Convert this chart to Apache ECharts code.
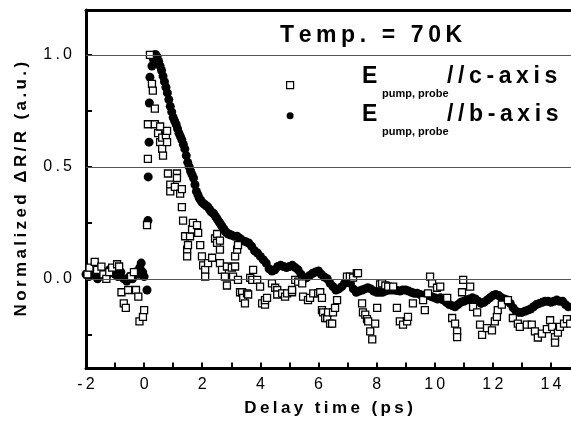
<!DOCTYPE html>
<html><head><meta charset="utf-8">
<script src="https://cdn.jsdelivr.net/npm/echarts@6/dist/echarts.min.js"></script>
<style>html,body{margin:0;padding:0;background:#fff}#c{width:571px;height:430px}</style>
</head><body><div id="c"></div>
<script>
// ---- data ----
const xMin = -2, xMax = 14.69;
const yMin = -0.4, yMax = 1.2;
const xLabelValues = [-2, 0, 2, 4, 6, 8, 10, 12, 14];
const xTickValues = [-2, -1, 0, 1, 2, 3, 4, 5, 6, 7, 8, 9, 10, 11, 12, 13, 14];
const yLabelValues = [0, 0.5, 1.0];
const yTickValues = [-0.25, 0, 0.25, 0.5, 0.75, 1.0];
const gridLineValues = [0, 0.5, 1.0];

const seriesNames = ['E pump, probe //c-axis', 'E pump, probe //b-axis'];

// filled circles: E // b-axis
const bAxisPts = [
[-2.0,0.02],[-1.9,0.01],[-1.8,0.03],[-1.7,0.02],[-1.6,0.0],[-1.5,0.02],[-1.4,0.03],[-1.3,0.01],[-1.2,0.04],[-1.1,0.03],
[-1.0,0.02],[-0.9,0.01],[-0.8,0.03],[-0.7,0.0],[-0.6,-0.01],[-0.5,0.01],[-0.4,0.0],[-0.3,0.03],[-0.2,0.02],[-0.15,0.05],
[-0.1,0.07],[-0.05,0.03],[0.0,0.01],[0.1,-0.05],
[0.13,0.26],[0.14,0.455],[0.17,0.61],[0.18,0.785],[0.2,0.9],[0.27,0.95],[0.32,0.98],[0.37,1.0],
[0.4,1.0],[0.45,0.99],[0.5,0.97],[0.55,0.95],[0.6,0.93],[0.65,0.905],[0.7,0.88],[0.75,0.855],[0.8,0.83],[0.85,0.80],
[0.9,0.77],[0.95,0.745],[1.0,0.72],[1.05,0.705],[1.1,0.69],[1.15,0.67],[1.2,0.65],[1.25,0.635],[1.3,0.62],[1.35,0.60],
[1.4,0.58],[1.45,0.55],[1.5,0.52],[1.55,0.50],[1.6,0.48],[1.65,0.465],[1.7,0.45],[1.75,0.42],[1.8,0.39],[1.85,0.375],
[1.9,0.36],[1.95,0.35],[2.0,0.34],[2.05,0.335],[2.1,0.33],[2.15,0.325],[2.2,0.32],[2.25,0.31],[2.3,0.30],[2.35,0.295],
[2.4,0.29],[2.45,0.28],[2.5,0.27],[2.55,0.26],[2.6,0.25],[2.65,0.24],[2.7,0.23],[2.75,0.22],[2.8,0.21],[2.85,0.205],
[2.9,0.20],[2.95,0.197],[3.0,0.195],[3.1,0.19],[3.2,0.19],[3.3,0.18],
[3.4,0.17],[3.5,0.165],[3.6,0.16],[3.7,0.145],[3.8,0.125],[3.9,0.115],[4.0,0.10],[4.1,0.085],[4.2,0.07],[4.3,0.045],
[4.4,0.035],[4.5,0.04],[4.6,0.055],[4.7,0.06],[4.8,0.055],[4.9,0.05],[5.0,0.055],[5.1,0.06],[5.2,0.05],[5.3,0.04],
[5.4,0.02],[5.5,0.0],[5.6,0.005],[5.7,0.015],[5.8,0.025],[5.9,0.03],[6.0,0.035],[6.1,0.02],[6.2,0.008],[6.3,0.0],
[6.4,-0.02],[6.5,-0.035],[6.6,-0.05],[6.7,-0.045],[6.8,-0.035],[6.9,-0.02],[7.0,-0.005],[7.1,-0.02],[7.2,-0.045],[7.3,-0.06],
[7.4,-0.055],[7.5,-0.05],[7.6,-0.045],[7.7,-0.04],[7.8,-0.045],[7.9,-0.055],[8.0,-0.06],[8.1,-0.06],[8.2,-0.06],[8.3,-0.055],
[8.4,-0.05],[8.5,-0.05],[8.6,-0.05],[8.7,-0.052],[8.8,-0.055],[8.9,-0.05],[9.0,-0.05],[9.1,-0.055],[9.2,-0.06],[9.3,-0.065],
[9.4,-0.065],[9.5,-0.07],[9.6,-0.075],[9.7,-0.07],[9.8,-0.075],[9.9,-0.08],[10.0,-0.085],[10.1,-0.09],[10.2,-0.085],[10.3,-0.095],
[10.4,-0.105],[10.5,-0.115],[10.6,-0.12],[10.7,-0.125],[10.8,-0.115],[10.9,-0.105],[11.0,-0.1],[11.1,-0.095],[11.2,-0.09],[11.3,-0.085],
[11.4,-0.09],[11.5,-0.1],[11.6,-0.11],[11.7,-0.105],[11.8,-0.095],[11.9,-0.085],[12.0,-0.075],[12.1,-0.07],[12.2,-0.075],[12.3,-0.085],
[12.4,-0.09],[12.5,-0.095],[12.6,-0.11],[12.7,-0.13],[12.8,-0.145],[12.9,-0.15],[13.0,-0.15],[13.1,-0.145],[13.2,-0.14],[13.3,-0.135],
[13.4,-0.125],[13.5,-0.115],[13.6,-0.11],[13.7,-0.105],[13.8,-0.1],[13.9,-0.1],[14.0,-0.105],[14.1,-0.1],[14.2,-0.095],[14.3,-0.1],
[14.4,-0.1],[14.5,-0.115],[14.6,-0.125],[14.7,-0.125]
];

// open squares: E // c-axis
const cAxisPts = [
[-1.95,0.02],[-1.88,0.05],[-1.7,0.076],[-1.62,0.04],[-1.47,0.054],[-1.4,0.02],[-1.3,0.0],[-1.2,0.03],[-1.1,0.05],[-0.93,0.065],
[-0.86,0.055],[-0.78,-0.06],[-0.7,-0.11],[-0.63,-0.13],[-0.55,-0.05],[-0.45,0.01],[-0.35,0.03],[-0.28,-0.05],[-0.2,-0.08],[-0.16,-0.19],
[-0.04,-0.17],[0.0,-0.14],
[0.1,0.24],[0.13,0.535],[0.13,0.69],[0.2,1.0],[0.27,0.87],[0.3,0.84],[0.37,0.76],[0.37,0.69],[0.48,0.65],[0.55,0.68],
[0.55,0.61],[0.62,0.63],[0.62,0.58],[0.65,0.55],[0.75,0.64],[0.79,0.66],[0.79,0.61],[0.82,0.47],[0.9,0.42],[0.9,0.39],
[1.06,0.41],[1.13,0.47],[1.13,0.45],[1.24,0.38],[1.3,0.40],[1.3,0.32],[1.34,0.26],[1.41,0.19],[1.48,0.13],[1.48,0.10],
[1.51,0.15],[1.58,0.19],[1.65,0.22],[1.68,0.25],[1.82,0.24],[1.86,0.205],[1.93,0.15],[1.99,0.10],[2.03,0.06],[2.1,0.04],
[2.1,0.01],[2.2,0.07],[2.34,0.094],[2.44,0.18],[2.51,0.2],[2.51,0.16],[2.61,0.17],[2.61,0.13],[2.61,0.07],[2.68,0.04],
[2.78,0.01],[2.85,0.055],[2.85,-0.03],[3.02,0.05],[3.06,0.01],[3.13,0.1],[3.13,0.055],[3.2,0.13],[3.23,0.15],[3.23,-0.005],
[3.3,-0.06],[3.37,-0.06],[3.41,-0.085],[3.47,-0.11],[3.54,-0.065],[3.58,-0.07],[3.65,0.004],[3.72,-0.005],[3.75,0.04],[3.89,-0.005],
[3.99,-0.035],[4.06,-0.11],[4.16,-0.115],[4.16,-0.095],[4.23,-0.085],[4.4,-0.02],[4.51,-0.04],[4.58,-0.05],[4.58,-0.07],[4.75,-0.065],
[4.85,-0.08],[4.92,-0.065],[5.09,-0.06],[5.09,-0.05],[5.2,-0.005],[5.3,-0.013],[5.44,-0.02],[5.47,-0.08],[5.64,-0.095],[5.71,-0.085],
[5.82,-0.065],[5.99,-0.065],[6.06,-0.06],[6.12,-0.085],[6.12,-0.14],[6.16,-0.15],[6.23,-0.175],[6.3,-0.175],[6.33,-0.15],[6.4,-0.2],
[6.47,-0.2],[6.5,-0.15],[6.57,-0.13],[6.64,-0.095],[6.98,0.01],[7.08,0.01],[7.19,0.005],[7.32,0.025],[7.36,0.025],[7.5,-0.11],
[7.53,-0.15],[7.61,-0.16],[7.67,-0.18],[7.71,-0.19],[7.78,-0.235],[7.85,-0.27],[7.95,-0.2],[8.02,-0.13],[8.12,-0.025],[8.19,-0.02],
[8.3,-0.03],[8.4,-0.035],[8.57,-0.035],[8.7,-0.13],[8.8,-0.19],[8.91,-0.205],[9.05,-0.19],[9.08,-0.17],[9.25,-0.11],[9.6,-0.095],
[9.66,-0.14],[9.77,-0.065],[9.84,0.01],[9.91,-0.02],[10.08,-0.04],[10.19,-0.035],[10.43,-0.085],[10.6,-0.175],[10.7,-0.2],[10.77,-0.235],
[10.77,-0.26],[10.94,-0.06],[10.98,-0.005],[11.22,-0.035],[11.32,-0.125],[11.46,-0.15],[11.56,-0.205],[11.63,-0.25],[11.8,-0.22],[11.97,-0.23],
[12.07,-0.19],[12.14,-0.17],[12.17,-0.14],[12.31,-0.115],[12.52,-0.095],[12.69,-0.175],[12.86,-0.2],[12.93,-0.215],[13.17,-0.205],[13.34,-0.205],
[13.45,-0.235],[13.55,-0.262],[13.69,-0.245],[13.86,-0.225],[13.97,-0.185],[14.04,-0.215],[14.14,-0.26],[14.14,-0.285],[14.24,-0.24],[14.31,-0.215],
[14.45,-0.2],[14.55,-0.18],[14.66,-0.2]
];

// ---- chart ----
const FONT = '"Liberation Sans", Arial, Helvetica, sans-serif';
const THIN = '\u2009';
const spaced = s => Array.from(s).join(THIN);

const chart = echarts.init(document.getElementById('c'), null, {renderer: 'canvas'});
const option = {
  animation: false,
  backgroundColor: '#fff',
  grid: {left: 86, top: 10, width: 487, height: 358.4, show: false},
  xAxis: [{
    type: 'value', min: xMin, max: xMax, position: 'bottom',
    axisLine: {show: true, onZero: false, lineStyle: {color: '#000', width: 3}},
    axisTick: {show: true, inside: true, length: 6, customValues: xTickValues, lineStyle: {color: '#000', width: 2}},
    axisLabel: {customValues: xLabelValues, margin: 8, color: '#000', fontSize: 16, fontFamily: FONT,
      formatter: v => spaced(String(v))},
    splitLine: {show: false},
    name: spaced('Delay time (ps)'), nameLocation: 'middle', nameGap: 31,
    nameTextStyle: {fontSize: 17, fontWeight: 'bold', color: '#000', fontFamily: FONT}
  }, {
    type: 'value', min: xMin, max: xMax, position: 'top',
    axisLine: {show: true, onZero: false, lineStyle: {color: '#000', width: 3}},
    axisTick: {show: false}, axisLabel: {show: false}, splitLine: {show: false}
  }],
  yAxis: {
    type: 'value', min: yMin, max: yMax,
    axisLine: {show: true, onZero: false, lineStyle: {color: '#000', width: 3}},
    axisTick: {show: true, inside: true, length: 6, customValues: yTickValues, lineStyle: {color: '#000', width: 2}},
    axisLabel: {customValues: yLabelValues, margin: 14, color: '#000', fontSize: 16, fontFamily: FONT,
      formatter: v => spaced(v.toFixed(1))},
    splitLine: {show: false},
    name: spaced('Normalized ΔR/R (a.u.)'), nameLocation: 'middle', nameRotate: 90, nameGap: 56,
    nameTextStyle: {fontSize: 17, fontWeight: 'bold', color: '#000', fontFamily: FONT}
  },
  legend: {
    orient: 'vertical', left: 281, top: 76, itemWidth: 7, itemHeight: 7, itemGap: 23,
    formatter: () => '', textStyle: {fontSize: 7, lineHeight: 7},
    data: [
      {name: seriesNames[0], icon: 'rect', itemStyle: {color: '#fff', borderColor: '#000', borderWidth: 1.2}},
      {name: seriesNames[1], icon: 'circle', itemStyle: {color: '#000', borderWidth: 0}}
    ]
  },
  series: [
    {
      type: 'line', data: [], z: 1, silent: true,
      markLine: {silent: true, symbol: ['none', 'none'], label: {show: false}, animation: false,
        lineStyle: {color: '#555', width: 1, type: 'solid'},
        emphasis: {disabled: true},
        data: gridLineValues.map(v => ({yAxis: v}))}
    },
    {
      name: seriesNames[1], type: 'scatter', data: bAxisPts, z: 3,
      symbol: 'circle', symbolSize: 9, itemStyle: {color: '#000', opacity: 1}
    },
    {
      name: seriesNames[0], type: 'scatter', data: cAxisPts, z: 4,
      symbol: 'rect', symbolSize: 7, itemStyle: {color: '#fff', borderColor: '#000', borderWidth: 1.3, opacity: 1}
    }
  ],
  graphic: [
    {type: 'text', x: 280, y: 36, style: {text: spaced('Temp. = 70K'), font: 'bold 23px ' + FONT, fill: '#000', align: 'left', verticalAlign: 'middle'}},
    {type: 'text', x: 362, y: 77, style: {text: 'E', font: 'bold 23px ' + FONT, fill: '#000', align: 'left', verticalAlign: 'middle'}},
    {type: 'text', x: 382, y: 94, style: {text: 'pump, probe', font: 'bold 11px ' + FONT, fill: '#000', align: 'left', verticalAlign: 'middle'}},
    {type: 'text', x: 447, y: 77, style: {text: spaced('//c-axis'), font: 'bold 23px ' + FONT, fill: '#000', align: 'left', verticalAlign: 'middle'}},
    {type: 'text', x: 362, y: 115, style: {text: 'E', font: 'bold 23px ' + FONT, fill: '#000', align: 'left', verticalAlign: 'middle'}},
    {type: 'text', x: 382, y: 132, style: {text: 'pump, probe', font: 'bold 11px ' + FONT, fill: '#000', align: 'left', verticalAlign: 'middle'}},
    {type: 'text', x: 447, y: 115, style: {text: spaced('//b-axis'), font: 'bold 23px ' + FONT, fill: '#000', align: 'left', verticalAlign: 'middle'}}
  ]
};
chart.setOption(option);
</script>
</body></html>
